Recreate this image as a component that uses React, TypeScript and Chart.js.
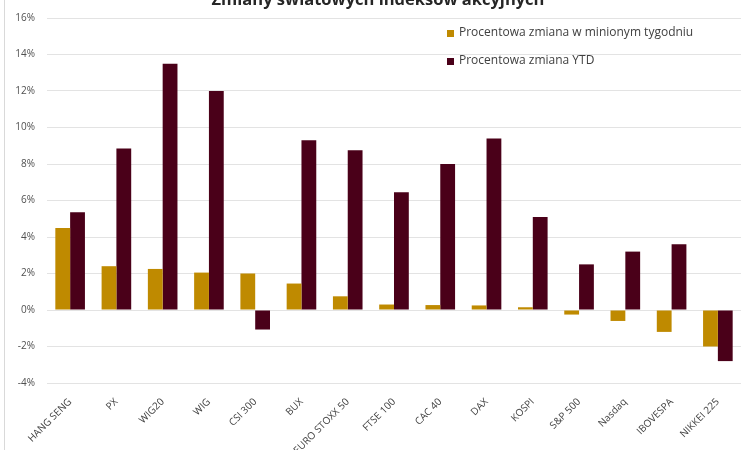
import React, { useEffect, useRef } from "react";
import { Chart, registerables } from "chart.js";

Chart.register(...registerables);

const categories = [
  "HANG SENG", "PX", "WIG20", "WIG", "CSI 300", "BUX", "EURO STOXX 50",
  "FTSE 100", "CAC 40", "DAX", "KOSPI", "S&P 500", "Nasdaq", "IBOVESPA", "NIKKEI 225",
];
const weekly = [4.5, 2.4, 2.25, 2.05, 2.0, 1.45, 0.75, 0.3, 0.27, 0.25, 0.15, -0.25, -0.6, -1.2, -2.0];
const ytd = [5.35, 8.85, 13.5, 12.0, -1.07, 9.3, 8.75, 6.45, 8.0, 9.4, 5.1, 2.5, 3.2, 3.6, -2.8];
const seriesNames = ["Procentowa zmiana w minionym tygodniu", "Procentowa zmiana YTD"];
const titleText = "Zmiany światowych indeksów akcyjnych";
const yMin = -4;
const yMax = 16;
const yStep = 2;

const GOLD = "#BF8A00";
const MAROON = "#4A0019";
const FONT = "'Open Sans', 'Liberation Sans', sans-serif";

const overlayPlugin = {
  id: "overlay",
  afterDraw(chart: any) {
    const ctx = chart.ctx;
    ctx.save();
    ctx.strokeStyle = "#d9d9d9";
    ctx.lineWidth = 1;
    ctx.beginPath();
    ctx.moveTo(4.5, 0);
    ctx.lineTo(4.5, chart.height);
    ctx.stroke();
    ctx.fillStyle = "#262626";
    ctx.font = `bold 16.5px ${FONT}`;
    ctx.textAlign = "center";
    ctx.textBaseline = "alphabetic";
    ctx.fillText(titleText, 378, 5);
    const colors = [GOLD, MAROON];
    const ys = [33, 61];
    ctx.font = `12px ${FONT}`;
    ctx.textAlign = "left";
    ctx.textBaseline = "middle";
    for (let i = 0; i < 2; i++) {
      ctx.fillStyle = colors[i];
      ctx.fillRect(447, ys[i] - 3, 7, 7);
      ctx.fillStyle = "#404040";
      ctx.fillText(seriesNames[i], 459, ys[i]);
    }
    ctx.restore();
  },
};

export default function App() {
  const ref = useRef<HTMLCanvasElement | null>(null);
  useEffect(() => {
    if (!ref.current) return;
    const chart = new Chart(ref.current, {
      type: "bar",
      data: {
        labels: categories,
        datasets: [
          { label: seriesNames[0], data: weekly, backgroundColor: GOLD },
          { label: seriesNames[1], data: ytd, backgroundColor: MAROON },
        ],
      },
      options: {
        animation: false,
        responsive: true,
        maintainAspectRatio: false,
        layout: { padding: { top: 11, left: 0, right: 1, bottom: 0 } },
        datasets: { bar: { categoryPercentage: 0.64, barPercentage: 1.0 } },
        plugins: {
          legend: { display: false },
          title: { display: false },
          tooltip: { enabled: false },
        },
        scales: {
          x: {
            grid: { display: false },
            border: { display: false },
            ticks: {
              color: "#404040",
              font: { family: FONT, size: 10 },
              maxRotation: 45,
              minRotation: 45,
              autoSkip: false,
              padding: 5,
            },
            afterFit: (s: any) => { s.height = 67; },
          },
          y: {
            min: yMin,
            max: yMax,
            grid: { color: "#e3e3e3", drawTicks: false },
            border: { display: false },
            ticks: {
              stepSize: yStep,
              color: "#505050",
              font: { family: FONT, size: 10 },
              padding: 12,
              callback: (v: any) => `${v}%`,
            },
            afterFit: (s: any) => { s.width = 47; },
          },
        },
      },
      plugins: [overlayPlugin],
    });
    return () => chart.destroy();
  }, []);
  return (
    <div style={{ position: "fixed", left: 0, top: 0, width: 742, height: 450, background: "#fff" }}>
      <canvas ref={ref} />
    </div>
  );
}
